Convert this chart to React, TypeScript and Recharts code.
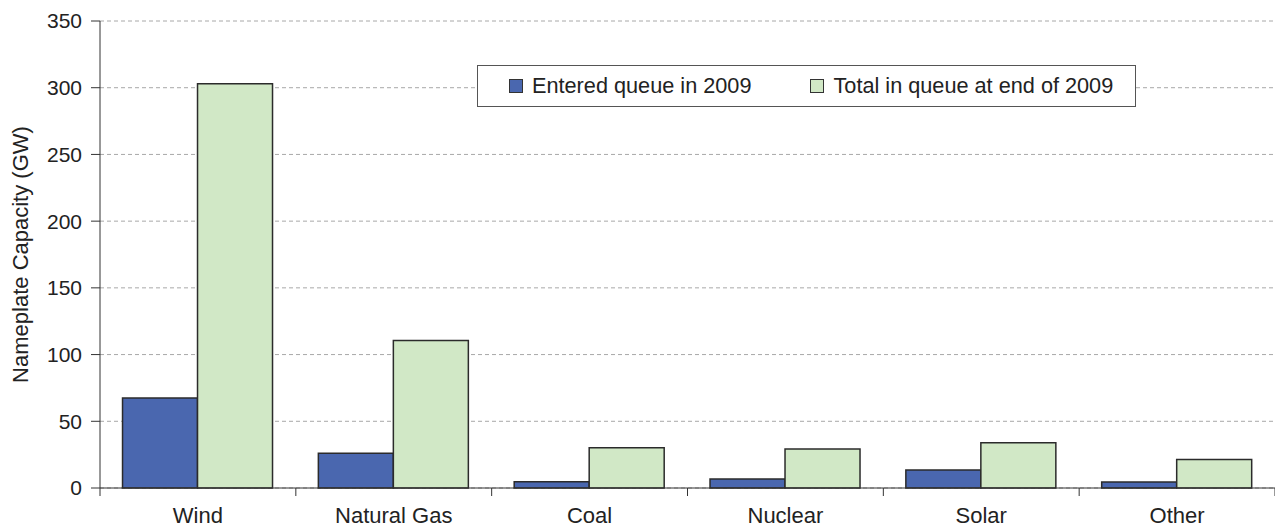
import { BarChart, Bar, XAxis, YAxis, CartesianGrid, Legend } from "recharts";

const categories = ["Wind", "Natural Gas", "Coal", "Nuclear", "Solar", "Other"];
const enteredQueue2009 = [67.5, 26, 4.6, 6.7, 13.5, 4.5];
const totalInQueueEnd2009 = [303, 110.5, 30.2, 29.2, 34, 21.3];
const yTicks = [0, 50, 100, 150, 200, 250, 300, 350];

const SERIES = [
  { key: "entered", name: "Entered queue in 2009", color: "#4a67af" },
  { key: "total", name: "Total in queue at end of 2009", color: "#d1e8c6" },
];

const FONT = "'Liberation Sans', Arial, Helvetica, sans-serif";
const W = 1275;
const H = 525;
const PLOT_LEFT = 100;
const PLOT_BOTTOM = 488;
const BAND = (W - PLOT_LEFT) / categories.length;

const data = categories.map((name, i) => ({
  name,
  entered: enteredQueue2009[i],
  total: totalInQueueEnd2009[i],
}));

// category label plus the boundary tick marks (ticks sit between groups, not under them)
const CategoryTick = (props: any) => {
  const { x, y, payload, index } = props;
  const left = x - BAND / 2;
  return (
    <g>
      <line x1={left} x2={left} y1={PLOT_BOTTOM} y2={PLOT_BOTTOM + 8} stroke="#333" strokeWidth={1} />
      {index === categories.length - 1 && (
        <line x1={x + BAND / 2} x2={x + BAND / 2} y1={PLOT_BOTTOM} y2={PLOT_BOTTOM + 8} stroke="#333" />
      )}
      <text x={x} y={y} dy="0.71em" textAnchor="middle" fill="#222" fontSize={22} fontFamily={FONT}>
        {payload.value}
      </text>
    </g>
  );
};

const LegendBox = () => (
  <div
    style={{
      boxSizing: "border-box",
      width: 659,
      height: 42,
      border: "1.5px solid #555",
      background: "#fff",
      display: "flex",
      alignItems: "center",
      paddingLeft: 31,
      fontFamily: FONT,
      fontSize: 21.7,
      color: "#222",
    }}
  >
    {SERIES.map((s, i) => (
      <div key={s.key} style={{ display: "flex", alignItems: "center", marginRight: i === 0 ? 59 : 0 }}>
        <span
          style={{
            display: "inline-block",
            width: 12,
            height: 12,
            background: s.color,
            border: "1px solid #333",
            marginRight: 9,
          }}
        />
        <span>{s.name}</span>
      </div>
    ))}
  </div>
);

export default function App() {
  return (
    <div style={{ position: "absolute", left: 0, top: 0, width: W, height: H, background: "#fff" }}>
      <BarChart
        width={W}
        height={H}
        data={data}
        margin={{ top: 21, right: 0, bottom: 0, left: 0 }}
        barCategoryGap="11.5%"
        barGap={0}
      >
        <CartesianGrid vertical={false} stroke="#a8a8a8" strokeDasharray="4 3" />
        <XAxis
          dataKey="name"
          height={37}
          axisLine={{ stroke: "#333", strokeWidth: 1 }}
          tickLine={false}
          tickSize={8}
          tickMargin={11}
          interval={0}
          tick={<CategoryTick />}
        />
        <YAxis
          width={100}
          domain={[0, 350]}
          ticks={yTicks}
          interval={0}
          axisLine={{ stroke: "#333", strokeWidth: 1 }}
          tickLine={{ stroke: "#333" }}
          tickSize={9}
          tickMargin={9}
          tick={{ fontSize: 21, fill: "#222", fontFamily: FONT }}
          label={{
            value: "Nameplate Capacity (GW)",
            angle: -90,
            position: "insideLeft",
            offset: 20,
            style: { textAnchor: "middle", fontSize: 22, fill: "#222", fontFamily: FONT },
          }}
        />
        <Legend
          layout="horizontal"
          verticalAlign="middle"
          wrapperStyle={{ position: "absolute", left: 477, top: 65, width: 659, height: 42 }}
          content={<LegendBox />}
        />
        {SERIES.map((s) => (
          <Bar
            key={s.key}
            dataKey={s.key}
            name={s.name}
            fill={s.color}
            stroke="#2b2b2b"
            strokeWidth={1.5}
            isAnimationActive={false}
          />
        ))}
      </BarChart>
    </div>
  );
}
